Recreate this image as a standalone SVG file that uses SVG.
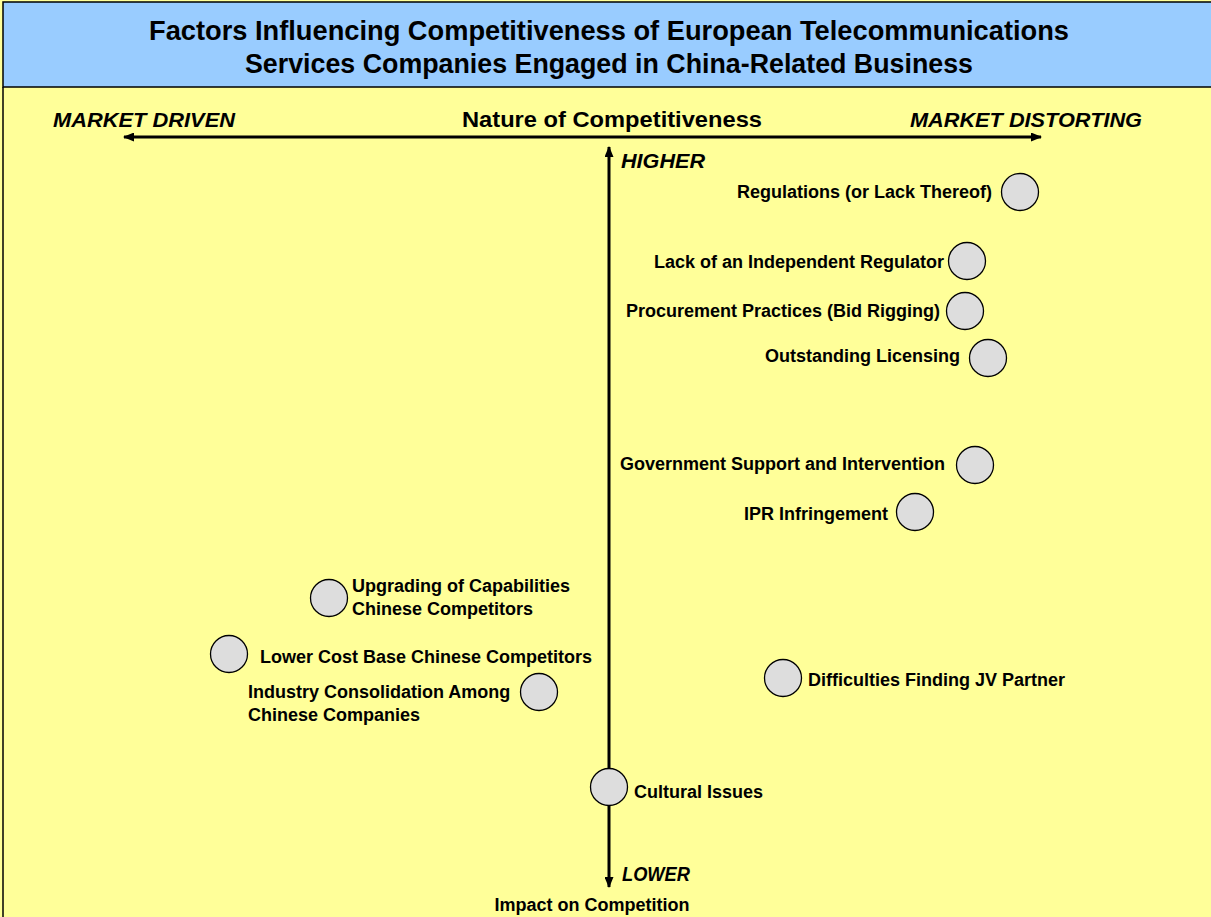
<svg xmlns="http://www.w3.org/2000/svg" width="1211" height="917" viewBox="0 0 1211 917">
<defs>
<marker id="ah" markerWidth="11" markerHeight="9" refX="10" refY="4.5" orient="auto-start-reverse" markerUnits="userSpaceOnUse">
<path d="M0,0 L11,4.5 L0,9 Z" fill="#000"/>
</marker>
<style>
.lbl{font-family:"Liberation Sans",Arial,sans-serif;font-weight:bold;font-size:18px;fill:#000}
.title{font-family:"Liberation Sans",Arial,sans-serif;font-weight:bold;font-size:27px;fill:#000}
.axis{font-family:"Liberation Sans",Arial,sans-serif;font-weight:bold;font-size:22px;fill:#000}
.ital{font-family:"Liberation Sans",Arial,sans-serif;font-weight:bold;font-style:italic;font-size:20px;fill:#000}
.dot{fill:#DDDDDD;stroke:#000;stroke-width:1.3}
</style>
</defs>
<rect x="0" y="0" width="1211" height="917" fill="#FFFF99"/>
<rect x="3" y="2" width="1210" height="85" fill="#99CCFF" stroke="#000" stroke-width="1.5"/>
<line x1="3" y1="87" x2="3" y2="917" stroke="#000" stroke-width="1.5"/>
<g id="title">
<text class="title" x="609" y="40" text-anchor="middle" textLength="920" lengthAdjust="spacingAndGlyphs">Factors Influencing Competitiveness of European Telecommunications</text>
<text class="title" x="609" y="73" text-anchor="middle" textLength="728" lengthAdjust="spacingAndGlyphs">Services Companies Engaged in China-Related Business</text>
</g>
<g id="connectors">
<line x1="124" y1="137" x2="1041" y2="137" stroke="#000" stroke-width="3" marker-start="url(#ah)" marker-end="url(#ah)"/>
<line x1="609" y1="887" x2="609" y2="147" stroke="#000" stroke-width="3" marker-start="url(#ah)" marker-end="url(#ah)"/>
</g>
<g id="axis-labels">
<text class="ital" x="53" y="127" textLength="182" lengthAdjust="spacingAndGlyphs">MARKET DRIVEN</text>
<text class="axis" x="612" y="127" text-anchor="middle" textLength="300" lengthAdjust="spacingAndGlyphs">Nature of Competitiveness</text>
<text class="ital" x="910" y="127" textLength="232" lengthAdjust="spacingAndGlyphs">MARKET DISTORTING</text>
<text class="ital" x="621" y="168" textLength="84" lengthAdjust="spacingAndGlyphs">HIGHER</text>
<text class="ital" x="622" y="881" textLength="68" lengthAdjust="spacingAndGlyphs">LOWER</text>
<text class="lbl" x="592" y="911" text-anchor="middle">Impact on Competition</text>
</g>
<g id="n-regulations"><circle class="dot" cx="1020" cy="192" r="18.5"/><text class="lbl" x="992" y="198" text-anchor="end">Regulations (or Lack Thereof)</text></g>
<g id="n-regulator"><circle class="dot" cx="967" cy="261" r="18.5"/><text class="lbl" x="944" y="268" text-anchor="end">Lack of an Independent Regulator</text></g>
<g id="n-procurement"><circle class="dot" cx="965" cy="311" r="18.5"/><text class="lbl" x="940" y="317" text-anchor="end">Procurement Practices (Bid Rigging)</text></g>
<g id="n-licensing"><circle class="dot" cx="988" cy="358" r="18.5"/><text class="lbl" x="960" y="362" text-anchor="end">Outstanding Licensing</text></g>
<g id="n-government"><circle class="dot" cx="975" cy="465" r="18.5"/><text class="lbl" x="945" y="470" text-anchor="end">Government Support and Intervention</text></g>
<g id="n-ipr"><circle class="dot" cx="915" cy="512" r="18.5"/><text class="lbl" x="888" y="520" text-anchor="end">IPR Infringement</text></g>
<g id="n-upgrading"><circle class="dot" cx="329" cy="598" r="18.5"/><text class="lbl" x="352" y="592">Upgrading of Capabilities</text><text class="lbl" x="352" y="615">Chinese Competitors</text></g>
<g id="n-lowercost"><circle class="dot" cx="229" cy="654" r="18.5"/><text class="lbl" x="260" y="663">Lower Cost Base Chinese Competitors</text></g>
<g id="n-consolidation"><circle class="dot" cx="539" cy="692" r="18.5"/><text class="lbl" x="248" y="698">Industry Consolidation Among</text><text class="lbl" x="248" y="721">Chinese Companies</text></g>
<g id="n-jv"><circle class="dot" cx="783" cy="678" r="18.5"/><text class="lbl" x="808" y="686">Difficulties Finding JV Partner</text></g>
<g id="n-cultural"><circle class="dot" cx="609" cy="787" r="18.5"/><text class="lbl" x="634" y="798">Cultural Issues</text></g>
</svg>
